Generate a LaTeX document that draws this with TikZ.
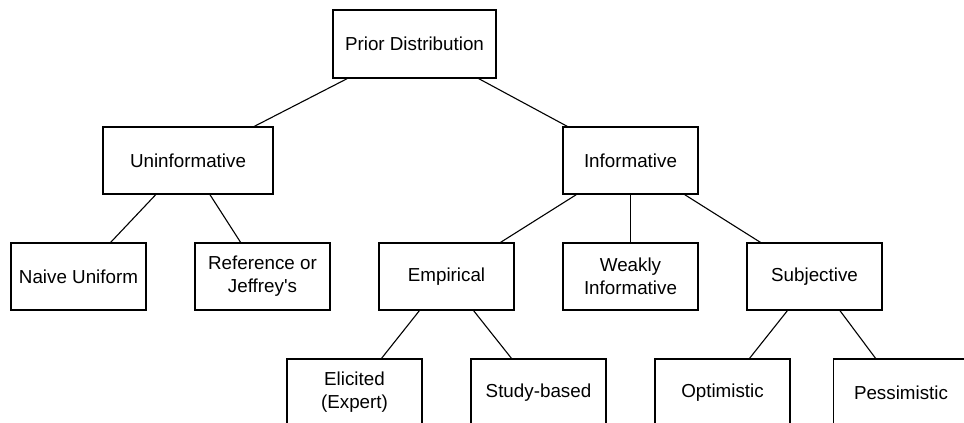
\documentclass[tikz,border=0pt]{standalone}
\usepackage{fontspec}
\setmainfont{Liberation Sans}
\begin{document}
\begin{tikzpicture}[x=1pt,y=-1pt,
  box/.style={draw=black,line width=1.2pt,fill=white,rectangle,inner sep=0pt,
    minimum width=135pt,minimum height=67pt,align=center,
    font=\fontsize{18.8}{23}\selectfont},
  conn/.style={draw=black,line width=1.1pt}]
\useasboundingbox (0,0) rectangle (964,423);
\clip (0,0) rectangle (964,423);
\fill[white] (0,0) rectangle (964,423);
\node[box,minimum width=163pt,minimum height=68pt] (prior) at (414.5,44) {Prior Distribution};
\node[box,minimum width=170pt] (uninf) at (188,160.5) {Uninformative};
\node[box] (inf) at (630.5,160.5) {Informative};
\node[box] (naive) at (78.5,276.5) {Naive Uniform};
\node[box] (ref) at (262.5,276.5) {Reference or\\Jeffrey\textquotesingle s};
\node[box] (emp) at (446.5,276.5) {Empirical};
\node[box] (weak) at (630.5,276.5) {Weakly\\Informative};
\node[box] (subj) at (814.5,276.5) {Subjective};
\node[box] (elic) at (354.5,392.5) {Elicited\\(Expert)};
\node[box] (study) at (538.5,392.5) {Study-based};
\node[box] (opt) at (722.5,392.5) {Optimistic};
\node[box] (pess) at (901,392.5) {Pessimistic};
\draw[conn] (prior) -- (uninf);
\draw[conn] (prior) -- (inf);
\draw[conn] (uninf) -- (naive);
\draw[conn] (uninf) -- (ref);
\draw[conn] (inf) -- (emp);
\draw[conn] (inf) -- (weak);
\draw[conn] (inf) -- (subj);
\draw[conn] (emp) -- (elic);
\draw[conn] (emp) -- (study);
\draw[conn] (subj) -- (opt);
\draw[conn] (subj) -- (pess);
\end{tikzpicture}
\end{document}
